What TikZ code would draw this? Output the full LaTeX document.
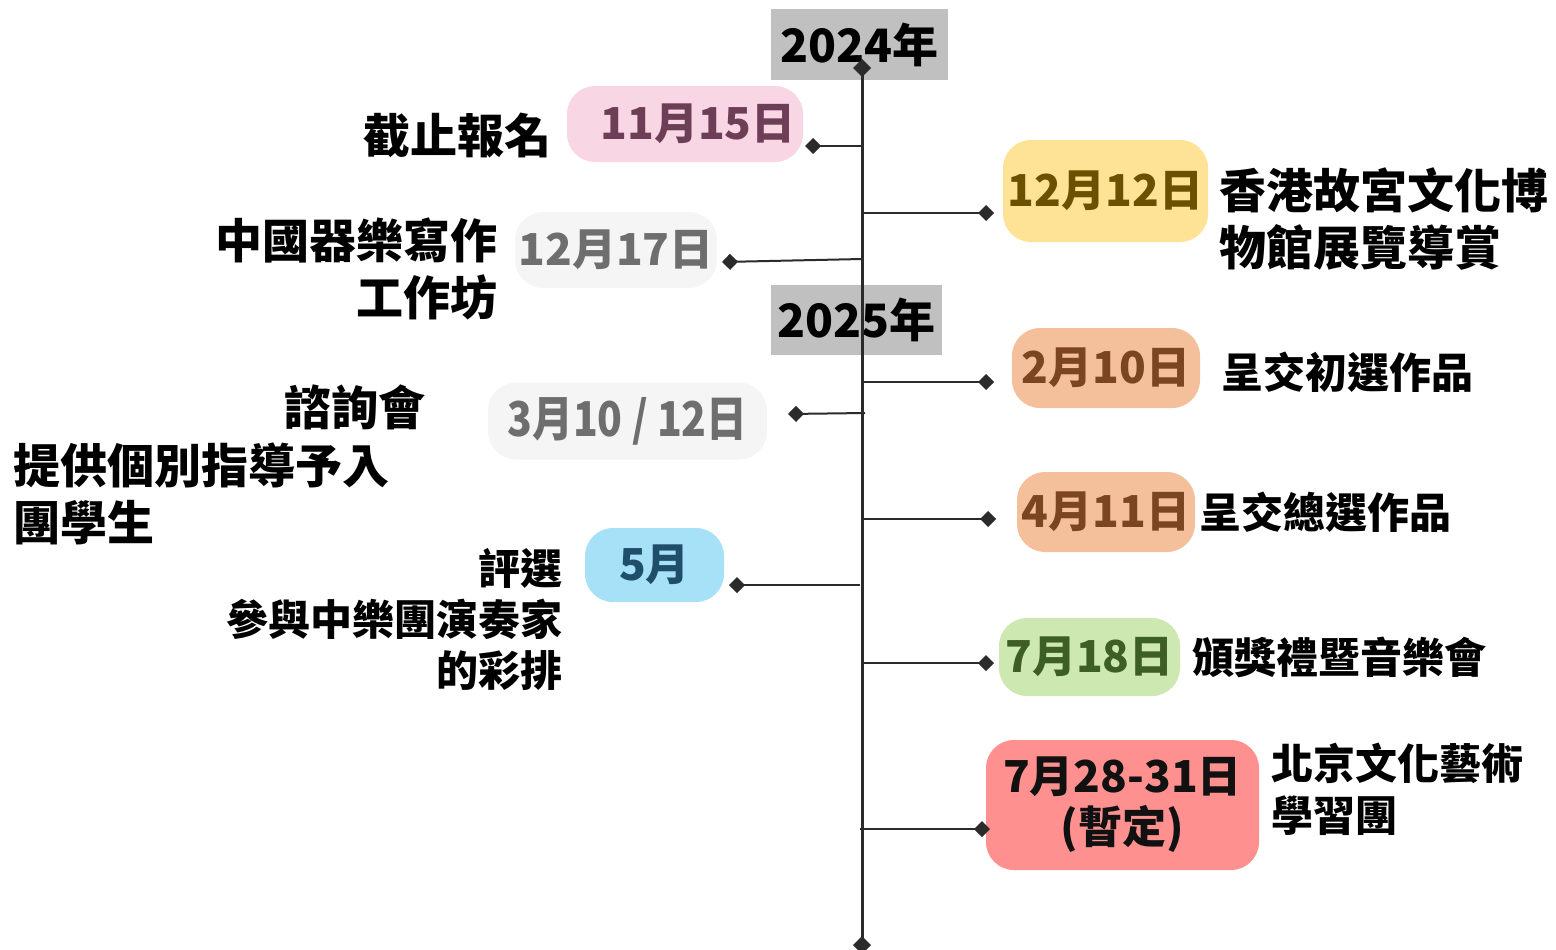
\documentclass[tikz,border=0pt]{standalone}
\usepackage{fontspec}
\usetikzlibrary{arrows.meta,shapes.geometric}
\newfontfamily\cjk{Noto Sans CJK TC}
\newfontfamily\cjkblack{Noto Sans CJK TC Black}
\definecolor{tline}{HTML}{2B2B2B}
\definecolor{yearbg}{HTML}{C0C0C0}
\definecolor{pinkbg}{HTML}{F8D6E4}\definecolor{pinkfg}{HTML}{6D3F57}
\definecolor{yelbg}{HTML}{FEE397}\definecolor{yelfg}{HTML}{6B5000}
\definecolor{graybg}{HTML}{F5F5F5}\definecolor{grayfg}{HTML}{6E6E6E}
\definecolor{peachbg}{HTML}{F4C09C}\definecolor{peachfg}{HTML}{7A4520}
\definecolor{bluebg}{HTML}{A6E1F7}\definecolor{bluefg}{HTML}{1F4E6B}
\definecolor{greenbg}{HTML}{CDE8B0}\definecolor{greenfg}{HTML}{3D5E25}
\definecolor{redbg}{HTML}{FF9090}\definecolor{redfg}{HTML}{111111}
\tikzset{
  yearbox/.style={fill=yearbg, inner sep=0pt, font=\cjkblack\fontsize{23}{27}\selectfont, text=black},
  datebox/.style={rounded corners=14pt, inner sep=0pt, align=center, font=\cjk\bfseries\fontsize{22}{25.5}\selectfont},
  lbl/.style={inner sep=0pt, font=\cjk\bfseries\fontsize{23.5}{28.5}\selectfont, text=black},
  lbls/.style={inner sep=0pt, font=\cjk\bfseries\fontsize{21}{26}\selectfont, text=black},
  timeline/.style={draw=tline, line width=1.5pt, {Diamond[length=9pt,width=9pt]}-{Diamond[length=9pt,width=9pt]}},
  branch/.style={draw=tline, line width=1pt, -{Diamond[length=8pt,width=8pt]}}
}
\begin{document}
\begin{tikzpicture}[x=0.5pt,y=-0.5pt]
\useasboundingbox (0,0) rectangle (1556,949);
% year boxes
\node[yearbox, minimum width=88.5pt, minimum height=35.5pt] (y2024) at (859.5,44.5) {2024年};
\node[yearbox, minimum width=85.5pt, minimum height=35pt] (y2025) at (856.5,320) {2025年};
% timeline
\coordinate (ttop) at (862,59);
\coordinate (tbot) at (862,954);
\draw[timeline] (ttop) -- (tbot);
% date blobs
\node[datebox, fill=pinkbg, text=pinkfg, minimum width=118pt, minimum height=38pt] (b1) at (685,124) {\hspace*{13pt}11月15日};
\node[datebox, fill=yelbg, text=yelfg, minimum width=102.5pt, minimum height=51pt] (b2) at (1105.5,191) {12月12日};
\node[datebox, fill=graybg, text=grayfg, minimum width=101pt, minimum height=38pt] (b3) at (616,250) {12月17日};
\node[datebox, fill=peachbg, text=peachfg, minimum width=94pt, minimum height=40pt] (b4) at (1106,368) {2月10日};
\node[datebox, fill=graybg, text=grayfg, minimum width=139.5pt, minimum height=38.5pt] (b5) at (627.5,421) {\scalebox{0.85}[1]{\fontsize{24}{28}\selectfont 3月10 / 12日}};
\node[datebox, fill=peachbg, text=peachfg, minimum width=89pt, minimum height=40pt] (b6) at (1106,512) {4月11日};
\node[datebox, fill=bluebg, text=bluefg, minimum width=69.5pt, minimum height=37pt] (b7) at (654.5,565) {5月};
\node[datebox, fill=greenbg, text=greenfg, minimum width=90.5pt, minimum height=39pt] (b8) at (1089.5,657) {7月18日};
\node[datebox, fill=redbg, text=redfg, minimum width=136.5pt, minimum height=65pt] (b9) at (1122.5,805) {7月28-31日\\(暫定)};
% branch points on timeline and diamond ends
\coordinate (t1) at (862,146);  \coordinate (d1) at (805,146);
\coordinate (t2) at (862,213);  \coordinate (d2) at (994,213);
\coordinate (t3) at (862,259);  \coordinate (d3) at (722,262);
\coordinate (t4) at (862,382);  \coordinate (d4) at (994,382);
\coordinate (t5) at (865,413);  \coordinate (d5) at (788,414);
\coordinate (t6) at (862,519);  \coordinate (d6) at (996,519);
\coordinate (t7) at (860,585);  \coordinate (d7) at (729,585);
\coordinate (t8) at (862,663);  \coordinate (d8) at (994,663);
\coordinate (t9) at (860,829);  \coordinate (d9) at (990,829);
\foreach \i in {1,...,9} {\draw[branch] (t\i) -- (d\i);}
% labels
\node[lbl, anchor=east] (l1) at (552,136) {截止報名};
\node[lbl, anchor=west, align=left] (l2) at (1219,219) {香港故宮文化博\\物館展覽導賞};
\node[lbl, anchor=east, align=right] (l3) at (498,269) {中國器樂寫作\\工作坊};
\node[lbls, anchor=west] (l4) at (1221,372) {呈交初選作品};
\node[lbl, anchor=east] (l5) at (426,407) {諮詢會};
\node[lbl, anchor=west, align=left] (l6) at (13,494) {提供個別指導予入\\團學生};
\node[lbls, anchor=east, align=right, font=\cjk\bfseries\fontsize{21}{25.5}\selectfont] (l7) at (563,619) {評選\\參與中樂團演奏家\\的彩排};
\node[lbls, anchor=west] (l8) at (1199,512) {呈交總選作品};
\node[lbls, anchor=west] (l9) at (1192,657) {頒獎禮暨音樂會};
\node[lbls, anchor=west, align=left] (l10) at (1271,789) {北京文化藝術\\學習團};
\end{tikzpicture}
\end{document}
